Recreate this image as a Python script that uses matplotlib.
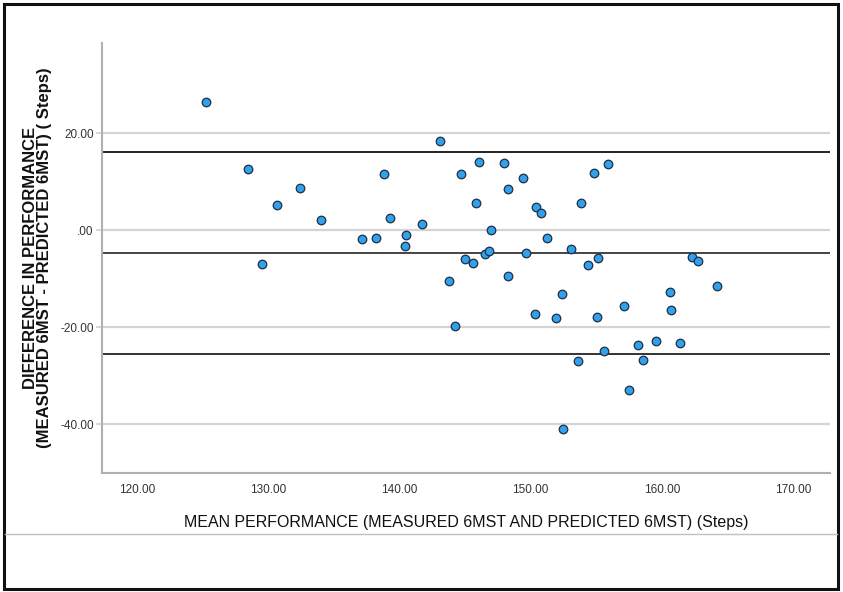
import matplotlib
matplotlib.use("Agg")
import matplotlib.pyplot as plt
from matplotlib.lines import Line2D
from matplotlib.patches import Rectangle

# Data
mean_perf = [125.25, 128.4, 129.5, 130.65, 132.4, 134.0, 137.1, 138.2, 138.8, 139.3,
             140.5, 140.4, 141.7, 143.1, 143.8, 144.2, 144.7, 145.0, 145.6, 145.85,
             146.05, 146.55, 146.8, 146.97, 147.95, 148.25, 148.25, 149.45, 149.65, 150.35,
             150.42, 150.78, 151.27, 151.95, 152.4, 152.5, 153.05, 153.62, 153.82, 154.4,
             154.85, 155.02, 155.1, 155.6, 155.86, 157.13, 157.5, 158.18, 158.6, 159.57,
             160.63, 160.74, 161.4, 162.3, 162.78, 164.18]
diff_perf = [26.5, 12.7, -7.05, 5.2, 8.8, 2.0, -1.8, -1.6, 11.6, 2.6,
             -1.1, -3.2, 1.3, 18.3, -10.5, -19.7, 11.5, -6.0, -6.7, 5.7,
             14.1, -4.9, -4.3, 0.0, 13.9, 8.5, -9.5, 10.85, -4.76, -17.3,
             4.84, 3.5, -1.56, -18.2, -13.15, -41.1, -3.9, -26.9, 5.6, -7.2,
             11.7, -18.0, -5.75, -24.9, 13.75, -15.6, -32.9, -23.65, -26.85, -22.95,
             -12.75, -16.4, -23.2, -5.45, -6.45, -11.55]
mean_diff = -4.7
upper_loa = 16.15
lower_loa = -25.55

x_ticks = [120, 130, 140, 150, 160, 170]
x_tick_labels = ["120.00", "130.00", "140.00", "150.00", "160.00", "170.00"]
y_ticks = [-40, -20, 0, 20]
y_tick_labels = ["-40.00", "-20.00", ".00", "20.00"]

x_title = "MEAN PERFORMANCE (MEASURED 6MST AND PREDICTED 6MST) (Steps)"
y_title = "DIFFERENCE IN PERFORMANCE\n(MEASURED 6MST - PREDICTED 6MST) ( Steps)"

plt.rcParams["font.family"] = ["Liberation Sans", "DejaVu Sans"]

W, H = 843, 592
fig = plt.figure(figsize=(W / 100, H / 100), dpi=100)
ax = fig.add_axes([102 / W, 1 - 472.5 / H, (829.6 - 102) / W, (472.5 - 42.6) / H])

ax.set_xlim(117.3, 172.8)
ax.set_ylim(-50, 38.7)

for yt in y_ticks:
    ax.axhline(yt, color="#d4d4d4", lw=1.6, zorder=1)
for yl, c in [(upper_loa, "#222222"), (mean_diff, "#444444"), (lower_loa, "#333333")]:
    ax.axhline(yl, color=c, lw=1.4, zorder=2)

ax.scatter(mean_perf, diff_perf, s=38, facecolor="#33a0ea", edgecolor="#1b2f45",
           linewidths=0.9, zorder=3)

for s in ["top", "right"]:
    ax.spines[s].set_visible(False)
for s in ["left", "bottom"]:
    ax.spines[s].set_color("#b0b0b0")
    ax.spines[s].set_linewidth(1.5)

ax.set_xticks(x_ticks)
ax.set_xticklabels(x_tick_labels, fontsize=8.5, color="#333333")
ax.set_yticks(y_ticks)
ax.set_yticklabels(y_tick_labels, fontsize=8.5, color="#333333")
ax.tick_params(axis="x", length=0, pad=8)
ax.tick_params(axis="y", length=4, color="#cfcfcf", width=1.2, pad=2)

ax.set_xlabel(x_title, fontsize=11.5, color="#111111", labelpad=14)
ax.set_ylabel(y_title, fontsize=12, fontweight="bold", color="#111111",
              linespacing=0.88, labelpad=6)

# outer frame and separator line
fig.add_artist(Rectangle((4 / W, 1 - 589 / H), (838 - 4) / W, (589 - 4) / H,
                         transform=fig.transFigure, fill=False, edgecolor="#111111",
                         lw=2.2))
fig.add_artist(Line2D([5 / W, 837 / W], [1 - 534 / H, 1 - 534 / H],
                      transform=fig.transFigure, color="#c0c0c0", lw=1.0))

fig.savefig("out.png", dpi=100)
